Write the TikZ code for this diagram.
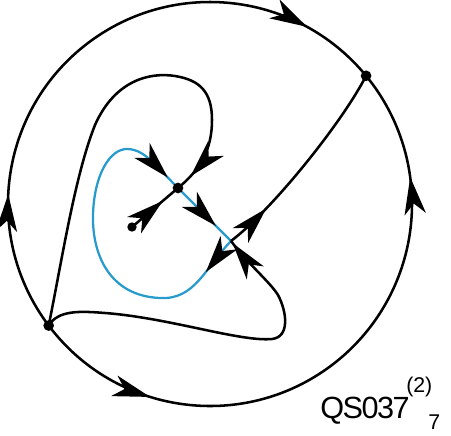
\documentclass[tikz,border=0pt]{standalone}
\usetikzlibrary{arrows.meta,decorations.markings,calc}
\usepackage{fontspec}
\setmainfont{Liberation Sans}
\definecolor{sepblue}{RGB}{40,155,205}
\tikzset{
  traj/.style={line width=1.9pt, black},
  bluetraj/.style={line width=1.7pt, sepblue},
  arr/.style={postaction={decorate,decoration={markings,mark=at position #1 with {\pgfsetcolor{black}\arrow{Stealth[length=28pt,width=16pt,inset=8pt]}}}}},
  dot/.style={circle, fill=black, inner sep=0pt, minimum size=8pt},
  smalldot/.style={circle, fill=black, inner sep=0pt, minimum size=7pt},
  lbl/.style={anchor=base west, inner sep=0pt},
}
\begin{document}
\begin{tikzpicture}[x=0.75pt,y=-0.75pt]
\useasboundingbox (0,0) rectangle (451,436);
\coordinate (C) at (210,204);
\path (C) ++(143:202) coordinate (P1);
\path (C) ++(-39.4:202) coordinate (P2);
\coordinate (S) at (178,188);
\coordinate (N) at (132,227);
\coordinate (X) at (231,241);

% boundary circle
\draw[traj, arr=0.224, arr=0.877] (P1) arc[start angle=143, end angle=320.6, radius=202];
\draw[traj, arr=0.196, arr=0.826] (P1) arc[start angle=143, end angle=-39.4, radius=202];

% interior trajectories
\draw[traj, arr=-13pt] (P1) .. controls (62,260) and (75,175) .. (95,125)
  .. controls (115,80) and (150,72) .. (175,76)
  .. controls (200,80) and (212,92) .. (212,120)
  .. controls (212,150) and (200,170) .. (S);
\draw[traj, arr=-15pt] (N) -- (S);
\draw[bluetraj, arr=-16pt] (S) -- (X);
\draw[bluetraj, arr=30pt, arr=-11pt] (X) .. controls (205,268) and (195,300) .. (160,298)
  .. controls (110,296) and (92,255) .. (93,215)
  .. controls (94,175) and (110,148) .. (128,149)
  .. controls (145,150) and (155,165) .. (S);
\draw[traj, arr=36pt] (X) .. controls (271,211) and (342,123) .. (P2);
\draw[traj, arr=-2pt] (P1) .. controls (58,310) and (80,311) .. (105,313)
  .. controls (170,318) and (240,342) .. (272,339)
  .. controls (290,337) and (287,312) .. (278,295)
  .. controls (270,282) and (248,264) .. (X);

% equilibria
\node[dot] (dP1) at (P1) {};
\node[dot] (dP2) at (P2) {};
\node[dot] (dS) at (S) {};
\node[smalldot] (dN) at (N) {};

% label
\node[lbl, font=\fontsize{23}{27}\selectfont\addfontfeature{LetterSpace=-5}] (name) at (320,418) {QS037};
\node[lbl, font=\fontsize{16}{19}\selectfont] (sup) at (406,392) {(2)};
\node[lbl, font=\fontsize{16}{19}\selectfont] (sub) at (428,429) {7};
\end{tikzpicture}
\end{document}
